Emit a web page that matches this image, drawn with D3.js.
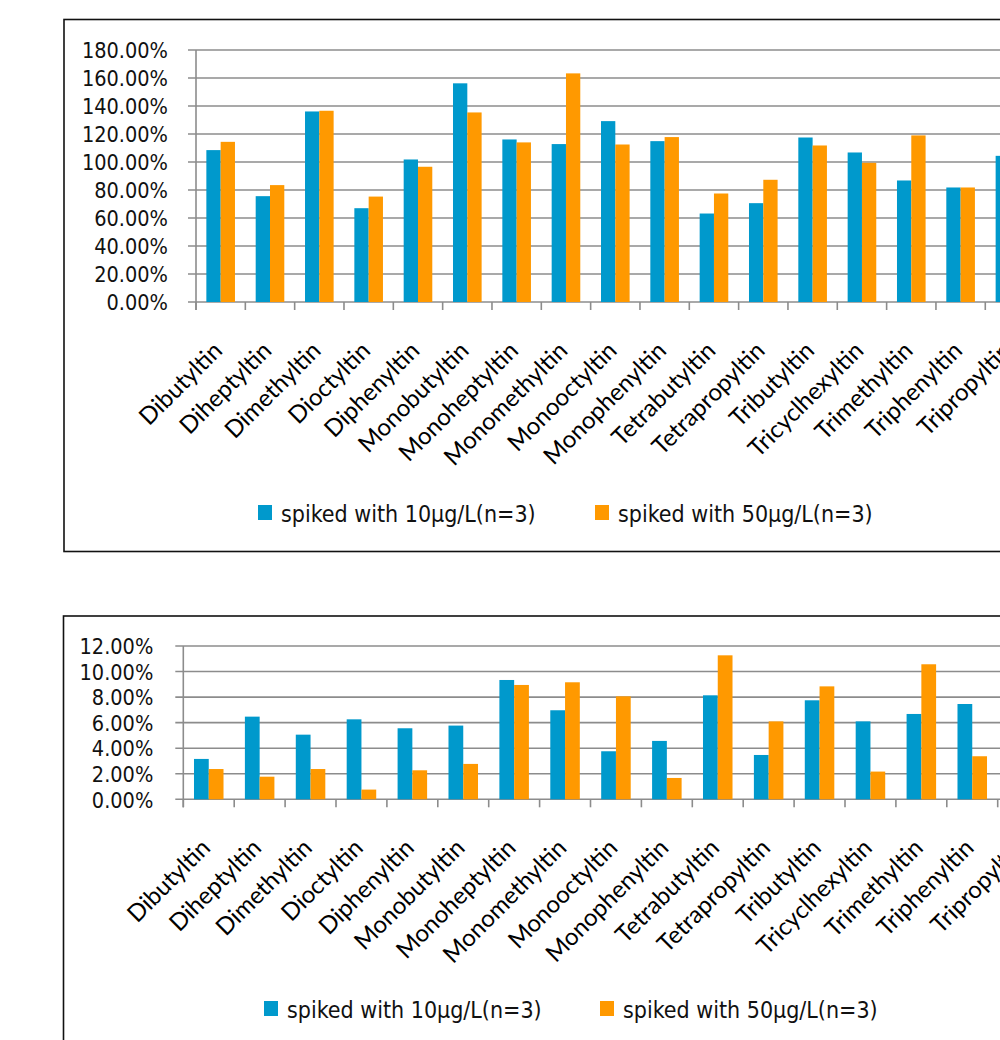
<!DOCTYPE html>
<html>
<head>
<meta charset="utf-8">
<script src="https://cdn.jsdelivr.net/npm/d3@7"></script>
<style>
  html, body { margin: 0; padding: 0; background: #fff; overflow: hidden; }
  svg { display: block; }
  .narrow { font-family: 'DejaVu Sans Condensed', 'DejaVu Sans', sans-serif; font-stretch: condensed; }
</style>
</head>
<body>
<svg id="page" width="1000" height="1040"></svg>
<script>
// Organotin compounds
const categories = [
  "Dibutyltin", "Diheptyltin", "Dimethyltin", "Dioctyltin", "Diphenyltin",
  "Monobutyltin", "Monoheptyltin", "Monomethyltin", "Monooctyltin", "Monophenyltin",
  "Tetrabutyltin", "Tetrapropyltin", "Tributyltin", "Tricyclhexyltin", "Trimethyltin",
  "Triphenyltin", "Tripropyltin"
];

const seriesNames = ["spiked with 10\u03bcg/L(n=3)", "spiked with 50\u03bcg/L(n=3)"];

// Recovery (%)
const recovery10 = [108.5, 75.6, 136.1, 67.0, 101.8, 156.2, 116.1, 112.8, 129.2, 114.9, 63.2, 70.6, 117.5, 106.8, 86.8, 81.8, 104.4];
const recovery50 = [114.4, 83.5, 136.6, 75.3, 96.6, 135.4, 114.0, 163.3, 112.5, 117.8, 77.5, 87.3, 111.8, 99.4, 119.0, 81.8, null];
const recoveryTicks = [0, 20, 40, 60, 80, 100, 120, 140, 160, 180];

// Relative standard deviation (%)
const rsd10 = [3.16, 6.47, 5.06, 6.26, 5.56, 5.77, 9.34, 6.97, 3.76, 4.57, 8.14, 3.47, 7.75, 6.10, 6.68, 7.46, null];
const rsd50 = [2.37, 1.77, 2.37, 0.76, 2.27, 2.77, 8.95, 9.16, 8.06, 1.67, 11.27, 6.10, 8.84, 2.17, 10.57, 3.37, null];
const rsdTicks = [0, 2, 4, 6, 8, 10, 12];

const colors = ["#0099cc", "#ff9900"];
const gridColor = "#8c8c8c";

const svg = d3.select("#page");

function drawChart(opts) {
  const g = svg.append("g");

  // frame
  g.append("rect")
    .attr("x", opts.frame.x).attr("y", opts.frame.y)
    .attr("width", opts.frame.w).attr("height", opts.frame.h)
    .attr("fill", "none").attr("stroke", "#111").attr("stroke-width", 1.6);

  const x = d3.scaleBand()
    .domain(categories)
    .range([opts.left, opts.left + opts.band * categories.length]);
  const sub = d3.scaleBand()
    .domain([0, 1])
    .range([x.bandwidth() * 0.21, x.bandwidth() * 0.79]);
  const y = d3.scaleLinear().domain([0, opts.max]).range([opts.bottom, opts.top]);

  // horizontal gridlines
  g.append("g").selectAll("line").data(opts.ticks).join("line")
    .attr("x1", opts.left - 8).attr("x2", 1100)
    .attr("y1", d => y(d)).attr("y2", d => y(d))
    .attr("stroke", gridColor).attr("stroke-width", 1.6);

  // y axis labels
  const yAxis = d3.axisLeft(y)
    .tickValues(opts.ticks)
    .tickSize(0)
    .tickPadding(opts.labelGap)
    .tickFormat(d => d3.format(".2f")(d) + "%");
  const ya = g.append("g").attr("transform", `translate(${opts.left},0)`).call(yAxis);
  ya.select(".domain").remove();
  ya.attr("font-family", null).attr("font-size", null);
  ya.selectAll("text")
    .attr("class", "narrow")
    .attr("font-size", opts.tickFont)
    .attr("fill", "#111")
    .attr("dy", "0.36em");

  // y axis line
  g.append("line")
    .attr("x1", opts.left).attr("x2", opts.left)
    .attr("y1", y(opts.max)).attr("y2", opts.bottom + 8)
    .attr("stroke", gridColor).attr("stroke-width", 1.6);

  // category boundary tick marks
  g.append("g").selectAll("line").data(d3.range(categories.length + 1)).join("line")
    .attr("x1", i => opts.left + i * x.step()).attr("x2", i => opts.left + i * x.step())
    .attr("y1", opts.bottom).attr("y2", opts.bottom + 8)
    .attr("stroke", gridColor).attr("stroke-width", 1.6);

  // bars
  const rows = categories.map((c, i) => ({ c, vals: [opts.series[0][i], opts.series[1][i]] }));
  const groups = g.append("g").selectAll("g").data(rows).join("g")
    .attr("transform", d => `translate(${x(d.c)},0)`);
  groups.selectAll("rect")
    .data(d => d.vals.map((v, k) => ({ v, k })).filter(e => e.v != null))
    .join("rect")
    .attr("x", e => sub(e.k))
    .attr("width", sub.bandwidth())
    .attr("y", e => y(e.v))
    .attr("height", e => opts.bottom - y(e.v))
    .attr("fill", e => colors[e.k]);

  // rotated category labels
  g.append("g").selectAll("text").data(categories).join("text")
    .attr("transform", c => `translate(${x(c) + x.bandwidth() / 2 + 3},${opts.bottom + 50}) rotate(-45)`)
    .attr("text-anchor", "end")
    .attr("font-family", "Lato, 'Open Sans', sans-serif")
    .attr("font-size", opts.catFont)
    .attr("fill", "#000")
    .text(c => c);

  // legend
  const lg = g.append("g");
  seriesNames.forEach((name, k) => {
    const lx = opts.legend.x[k];
    lg.append("rect")
      .attr("x", lx).attr("y", opts.legend.y - 17)
      .attr("width", 14).attr("height", 15)
      .attr("fill", colors[k]);
    lg.append("text")
      .attr("class", "narrow")
      .attr("x", lx + 23).attr("y", opts.legend.y)
      .attr("font-size", opts.legendFont)
      .attr("fill", "#111")
      .text(name);
  });
}

drawChart({
  frame: { x: 64, y: 19.5, w: 1100, h: 532 },
  left: 196, band: 49.33, top: 50, bottom: 302, max: 180,
  ticks: recoveryTicks, labelGap: 28, tickFont: 21.5, catFont: 24, legendFont: 23,
  series: [recovery10, recovery50],
  legend: { x: [258, 595], y: 522 }
});

drawChart({
  frame: { x: 63.5, y: 616, w: 1100, h: 500 },
  left: 183.3, band: 50.9, top: 646, bottom: 799.3, max: 12,
  ticks: rsdTicks, labelGap: 30, tickFont: 21.5, catFont: 24, legendFont: 23,
  series: [rsd10, rsd50],
  legend: { x: [264, 600], y: 1018 }
});
</script>
</body>
</html>
